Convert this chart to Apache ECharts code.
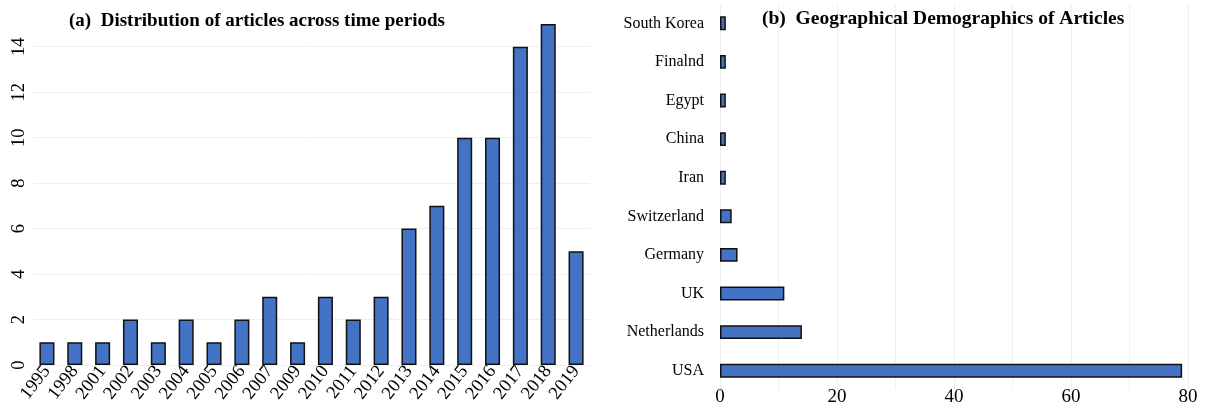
<!DOCTYPE html>
<html>
<head>
<meta charset="utf-8">
<script src="https://cdn.jsdelivr.net/npm/echarts@6/dist/echarts.min.js"></script>
<style>
  html, body { margin: 0; padding: 0; background: #fff; }
  #chart { width: 1206px; height: 409px; }
</style>
</head>
<body>
<div id="chart"></div>
<script>
// (a) articles per year
const years = ['1995', '1998', '2001', '2002', '2003', '2004', '2005', '2006', '2007', '2009',
  '2010', '2011', '2012', '2013', '2014', '2015', '2016', '2017', '2018', '2019']
const yearCounts = [1, 1, 1, 2, 1, 2, 1, 2, 3, 1, 3, 2, 3, 6, 7, 10, 10, 14, 15, 5]

// (b) articles per country, bottom to top
const countries = ['USA', 'Netherlands', 'UK', 'Germany', 'Switzerland', 'Iran', 'China', 'Egypt', 'Finalnd', 'South Korea']
const countryCounts = [79, 14, 11, 3, 2, 1, 1, 1, 1, 1]

const serif = 'Liberation Serif'
const barColor = '#4472C4'
const gridColor = '#efefef'

let mychart = echarts.init(document.getElementById('chart'))

let option = {
  backgroundColor: '#fff',
  animation: false,
  textStyle: { fontFamily: serif, color: '#000' },
  title: [
    {
      text: '(a)  Distribution of articles across time periods',
      left: 64,
      top: 7,
      textStyle: { fontFamily: serif, fontWeight: 'bold', fontSize: 19, color: '#000' },
    },
    {
      text: '(b)  Geographical Demographics of Articles',
      left: 757,
      top: 4,
      textStyle: { fontFamily: serif, fontWeight: 'bold', fontSize: 19.5, color: '#000' },
    },
  ],
  grid: [
    { left: 33, right: 616, top: 24, bottom: 44 },
    { left: 720, right: 18, top: 4, bottom: 19 },
  ],
  xAxis: [
    {
      gridIndex: 0,
      type: 'category',
      data: years,
      axisLine: { show: false },
      axisTick: { show: false },
      axisLabel: { interval: 0, rotate: 52, margin: 3, fontSize: 18.5, fontFamily: serif, color: '#000' },
    },
    {
      gridIndex: 1,
      type: 'value',
      min: 0,
      max: 80,
      interval: 20,
      axisLine: { show: false },
      axisTick: { show: false },
      axisLabel: { margin: -2, fontSize: 19, fontFamily: serif, color: '#000' },
      splitLine: { lineStyle: { color: gridColor } },
      minorTick: { show: false, splitNumber: 2 },
      minorSplitLine: { show: true, lineStyle: { color: gridColor } },
    },
  ],
  yAxis: [
    {
      gridIndex: 0,
      type: 'value',
      min: 0,
      max: 15,
      interval: 2,
      axisLine: { show: false },
      axisTick: { show: false },
      axisLabel: {
        rotate: 90,
        margin: 4,
        fontSize: 18.5,
        fontFamily: serif,
        color: '#000',
        showMaxLabel: false,
      },
      splitLine: { showMaxLine: false, lineStyle: { color: gridColor } },
    },
    {
      gridIndex: 1,
      type: 'category',
      data: countries,
      axisLine: { show: false },
      axisTick: { show: false },
      axisLabel: { margin: 16, fontSize: 16, fontFamily: serif, color: '#000' },
    },
  ],
  series: [
    {
      type: 'bar',
      xAxisIndex: 0,
      yAxisIndex: 0,
      data: yearCounts,
      barWidth: '54%',
      itemStyle: { color: barColor, borderColor: '#111', borderWidth: 1.5 },
    },
    {
      type: 'bar',
      xAxisIndex: 1,
      yAxisIndex: 1,
      data: countryCounts,
      barWidth: '36%',
      itemStyle: { color: barColor, borderColor: '#111', borderWidth: 1.5 },
    },
  ],
}

mychart.setOption(option)
</script>
</body>
</html>
